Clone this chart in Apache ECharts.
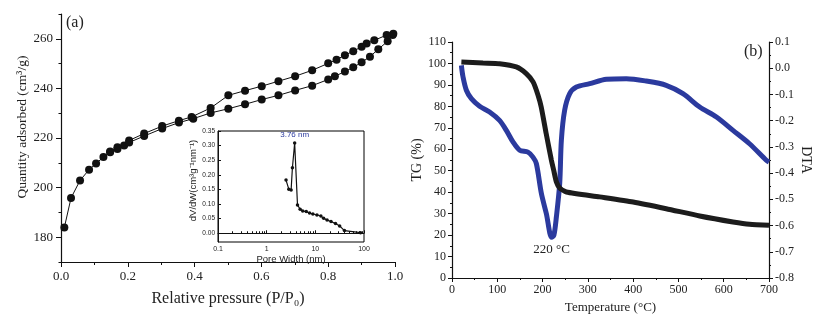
<!DOCTYPE html>
<html><head><meta charset="utf-8">
<script src="https://cdn.jsdelivr.net/npm/echarts@6/dist/echarts.min.js"></script>
<style>html,body{margin:0;padding:0;background:#fff}#c{width:815px;height:319px}</style>
</head><body><div id="c"></div>
<script>
// Panel (a): N2 isotherm
const adsX = [0.01,0.03,0.057,0.084,0.105,0.127,0.147,0.169,0.189,0.204,0.249,0.303,0.353,0.396,0.448,0.501,0.551,0.601,0.651,0.701,0.752,0.8,0.82,0.85,0.875,0.9,0.925,0.95,0.978,0.993];
const adsY = [183.9,195.8,202.9,207.2,209.7,212.3,214.3,215.6,217.0,218.2,220.8,223.8,226.2,227.8,230.1,231.8,233.6,235.5,237.2,239.2,241.1,243.6,244.9,246.8,248.5,250.5,252.8,255.8,259.0,261.5];
const desX = [0.995,0.975,0.938,0.915,0.9,0.875,0.85,0.825,0.8,0.752,0.701,0.651,0.601,0.551,0.501,0.448,0.391,0.353,0.303,0.249,0.204,0.169,0.147];
const desY = [262.0,261.5,259.4,258.1,256.8,255.0,253.4,251.6,250.1,247.3,244.9,242.9,240.9,239.1,237.2,232.1,228.5,227.0,224.8,221.8,219.0,216.3,214.6];
const isoYTicks = [180,200,220,240,260];
// Inset: pore size distribution
const poreW = [2.5,2.85,3.18,3.38,3.76,4.3,4.87,5.5,6.5,7.6,8.9,10.8,13,14.8,17.4,21,26,31.6,39.6,85];
const poreV = [0.182,0.151,0.148,0.224,0.309,0.097,0.082,0.076,0.074,0.069,0.066,0.0625,0.059,0.051,0.045,0.040,0.033,0.025,0.009,0.002];
const insetYTicks = [0,0.05,0.10,0.15,0.20,0.25,0.30,0.35];
// Panel (b): TG / DTA
const tgT = [20.7,68.5,105,142,164,179,190,197,208,219.5,224.6,230.5,237.8,252.6,326,400,473,547,620.5,657,700];
const tgV = [100.7,100.2,99.9,98.4,95.3,91.4,85.2,79.7,67.3,54.9,50.2,44.8,42.0,40.1,37.8,35.4,32.3,28.9,26.1,25.0,24.6];
const dtaT = [20.7,24.3,31.7,42.8,61,83,105,120,134.6,149.5,167.8,178.8,186.3,197.4,208.4,220,225,230.5,237.8,241.5,248.8,259.9,274.6,304,340.9,385,429,473,510,547,584,620.5,657,694,700];
const dtaV = [0.011,-0.033,-0.084,-0.116,-0.145,-0.167,-0.199,-0.237,-0.281,-0.313,-0.320,-0.339,-0.364,-0.478,-0.555,-0.645,-0.637,-0.567,-0.44,-0.275,-0.16,-0.097,-0.072,-0.059,-0.042,-0.040,-0.049,-0.065,-0.097,-0.148,-0.186,-0.237,-0.288,-0.351,-0.358];

const zip = (a,b) => a.map((v,i)=>[v,b[i]]);
const SERIF = 'Liberation Serif';
const SANS = 'Liberation Sans';
const axCol = '#111';
const lab = (size, fam) => ({fontFamily: fam||SERIF, fontSize: size, color: '#222'});

const chart = echarts.init(document.getElementById('c'));
chart.setOption({
  animation: false,
  backgroundColor: '#fff',
  grid: [
    {left: 61, top: 14, width: 334, height: 248},
    {left: 218, top: 131, width: 146, height: 111, show: true, borderColor: '#000', borderWidth: 1, backgroundColor: '#fff'},
    {left: 452, top: 42, width: 317, height: 236}
  ],
  xAxis: [
    {gridIndex: 0, type: 'value', min: 0, max: 1, interval: 0.2,
     axisLine: {lineStyle: {color: axCol, width: 1.2}},
     axisTick: {inside: false, length: 5, lineStyle: {color: axCol}},
     minorTick: {show: true, splitNumber: 2, length: 3, lineStyle: {color: axCol}},
     axisLabel: Object.assign(lab(13), {margin: 8, formatter: v => v.toFixed(1)}),
     splitLine: {show: false},
     name: 'Relative pressure (P/P₀)', nameLocation: 'middle', nameGap: 29,
     nameTextStyle: lab(16)},
    {gridIndex: 1, type: 'log', logBase: 10, min: 0.1, max: 100,
     axisLine: {lineStyle: {color: axCol}},
     axisTick: {inside: true, length: 3, lineStyle: {color: axCol}},
     minorTick: {show: true, splitNumber: 9, length: 2, lineStyle: {color: axCol}},
     axisLabel: Object.assign(lab(7, SANS), {margin: 4, formatter: v => String(v)}),
     splitLine: {show: false},
     name: 'Pore Width (nm)', nameLocation: 'middle', nameGap: 9,
     nameTextStyle: lab(9.5, SANS)},
    {gridIndex: 2, type: 'value', min: 0, max: 700, interval: 100,
     axisLine: {lineStyle: {color: axCol, width: 1.2}},
     axisTick: {length: 4, lineStyle: {color: axCol}},
     minorTick: {show: true, splitNumber: 2, length: 2, lineStyle: {color: axCol}},
     axisLabel: Object.assign(lab(12), {margin: 6}),
     splitLine: {show: false},
     name: 'Temperature (°C)', nameLocation: 'middle', nameGap: 21,
     nameTextStyle: lab(13)}
  ],
  yAxis: [
    {gridIndex: 0, type: 'value', min: 170, max: 270, position: 'left',
     axisLine: {show: true, lineStyle: {color: axCol, width: 1.2}},
     axisTick: {show: true, length: 5, customValues: isoYTicks, lineStyle: {color: axCol}},
     axisLabel: Object.assign(lab(13), {margin: 8, customValues: isoYTicks}),
     splitLine: {show: false},
     name: 'Quantity adsorbed (cm³/g)', nameLocation: 'middle', nameGap: 32,
     nameTextStyle: Object.assign(lab(13.5), {padding: [0, 0, 0, 22]})},
    {gridIndex: 1, type: 'value', min: -0.03, max: 0.35,
     axisLine: {show: true, lineStyle: {color: axCol}},
     axisTick: {show: true, inside: true, length: 3, customValues: insetYTicks, lineStyle: {color: axCol}},
     axisLabel: Object.assign(lab(6.5, SANS), {margin: 3, customValues: insetYTicks, formatter: v => v.toFixed(2)}),
     splitLine: {show: false},
     name: 'dV/dW(cm³g⁻¹nm⁻¹)', nameLocation: 'middle', nameGap: 19,
     nameTextStyle: Object.assign(lab(9.5, SANS), {padding: [0, 0, 0, 12]})},
    {gridIndex: 2, type: 'value', min: 0, max: 110, interval: 10,
     axisLine: {show: true, lineStyle: {color: axCol, width: 1.2}},
     axisTick: {show: true, length: 4, lineStyle: {color: axCol}},
     minorTick: {show: true, splitNumber: 2, length: 2, lineStyle: {color: axCol}},
     axisLabel: Object.assign(lab(12), {margin: 6}),
     splitLine: {show: false},
     name: 'TG (%)', nameLocation: 'middle', nameGap: 26,
     nameTextStyle: lab(14)},
    {gridIndex: 2, type: 'value', position: 'right', min: -0.8, max: 0.1, interval: 0.1,
     axisLine: {show: true, lineStyle: {color: axCol, width: 1.2}},
     axisTick: {show: true, length: 4, lineStyle: {color: axCol}},
     minorTick: {show: true, splitNumber: 2, length: 2, lineStyle: {color: axCol}},
     axisLabel: Object.assign(lab(12), {margin: 6, formatter: v => (Math.round(v*10)/10).toFixed(1)}),
     splitLine: {show: false},
     name: 'DTA', nameLocation: 'middle', nameGap: 30, nameRotate: -90,
     nameTextStyle: lab(14)},
    {gridIndex: 0, type: 'value', min: 170, max: 270, interval: 10, position: 'left',
     axisLine: {show: false}, axisLabel: {show: false}, splitLine: {show: false},
     axisTick: {show: true, length: 2.5, lineStyle: {color: axCol}}}
  ],
  graphic: [
    {type: 'text', left: 66, top: 15, style: {text: '(a)', font: '16px "Liberation Serif"', fill: '#222'}},
    {type: 'text', left: 744, top: 44, style: {text: '(b)', font: '16px "Liberation Serif"', fill: '#222'}}
  ],
  series: [
    {type: 'line', xAxisIndex: 0, yAxisIndex: 0, data: zip(adsX, adsY),
     symbol: 'circle', symbolSize: 8, itemStyle: {color: '#111'}, lineStyle: {color: '#111', width: 1}},
    {type: 'line', xAxisIndex: 0, yAxisIndex: 0, data: zip(desX, desY),
     symbol: 'circle', symbolSize: 8, itemStyle: {color: '#111'}, lineStyle: {color: '#111', width: 1}},
    {type: 'line', xAxisIndex: 1, yAxisIndex: 1,
     data: zip(poreW, poreV).map((p, i) => poreW[i] === 3.76 ?
       {value: p, label: {show: true, position: 'top', distance: 2, formatter: '3.76 nm', fontFamily: SANS, fontSize: 8, color: '#2b3a9e'}} : p),
     symbol: 'circle', symbolSize: 3.5, itemStyle: {color: '#111'}, lineStyle: {color: '#111', width: 1.2}, z: 5},
    {type: 'line', xAxisIndex: 2, yAxisIndex: 3, data: zip(dtaT, dtaV), smooth: 0.3,
     showSymbol: false, lineStyle: {color: '#2b3a9e', width: 5}, itemStyle: {color: '#2b3a9e'},
     markPoint: {symbol: 'circle', symbolSize: 1, itemStyle: {color: 'rgba(0,0,0,0)'},
       data: [{coord: [220, -0.645], label: {show: true, position: 'bottom', distance: 5, formatter: '220 °C', fontFamily: SERIF, fontSize: 13, color: '#222'}}]}},
    {type: 'line', xAxisIndex: 2, yAxisIndex: 2, data: zip(tgT, tgV), smooth: 0.2,
     showSymbol: false, lineStyle: {color: '#1c1c1c', width: 5}, itemStyle: {color: '#1c1c1c'}}
  ]
});
</script></body></html>
